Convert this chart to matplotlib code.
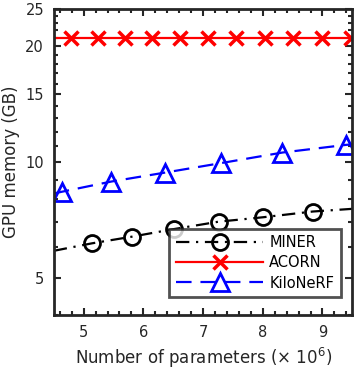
import matplotlib
matplotlib.use("Agg")
import matplotlib.pyplot as plt
from matplotlib.ticker import FixedLocator, NullFormatter, MultipleLocator

# ── data ──────────────────────────────────────────────────────────────────
miner_x = [4.5, 5.14, 5.81, 6.52, 7.26, 8.01, 8.84, 9.5]
miner_y = [5.88, 6.15, 6.40, 6.70, 7.00, 7.19, 7.44, 7.56]

acorn_x = [4.5, 4.79, 5.24, 5.69, 6.14, 6.61, 7.09, 7.56, 8.04, 8.51, 8.99, 9.47, 9.5]
acorn_y = [21.0] * len(acorn_x)

kilo_x = [4.5, 4.645, 5.46, 6.36, 7.30, 8.33, 9.40, 9.5]
kilo_y = [8.29, 8.38, 8.90, 9.39, 9.94, 10.59, 11.09, 11.12]

y_major = [5, 10, 15, 20, 25]
y_minor = list(range(4, 26))

fig = plt.figure(figsize=(3.61, 3.77), dpi=100)
ax = fig.add_axes([0.149, 0.164, 0.827, 0.812])

ax.plot(miner_x, miner_y, color="black", lw=1.6, dashes=(6, 3, 1, 3),
        marker="o", ms=11.5, mfc="none", mew=2, markevery=list(range(1, len(miner_x) - 1)),
        label="MINER")
ax.plot(acorn_x, acorn_y, color="red", lw=1.6, ls="-",
        marker="x", ms=9.5, mew=2.5, markevery=list(range(1, len(acorn_x) - 1)),
        label="ACORN")
ax.plot(kilo_x, kilo_y, color="blue", lw=1.6, dashes=(7, 4),
        marker="^", ms=13, mfc="none", mew=2, markevery=list(range(1, len(kilo_x) - 1)),
        label="KiloNeRF")

ax.set_yscale("log")
ax.set_xlim(4.5, 9.5)
ax.set_ylim(4, 25)
ax.yaxis.set_major_locator(FixedLocator(y_major))
ax.yaxis.set_minor_locator(FixedLocator(y_minor))
ax.yaxis.set_major_formatter(plt.FixedFormatter([str(v) for v in y_major]))
ax.yaxis.set_minor_formatter(NullFormatter())
ax.xaxis.set_major_locator(FixedLocator([5, 6, 7, 8, 9]))
ax.xaxis.set_minor_locator(MultipleLocator(0.2))

ax.tick_params(which="both", direction="in", top=True, right=True, width=1.5,
               labelsize=10.5, colors="#262626")
ax.tick_params(which="major", length=5, pad=7)
ax.tick_params(which="minor", length=3)
for s in ax.spines.values():
    s.set_linewidth(2)
    s.set_color("#262626")

ax.set_xlabel(r"Number of parameters ($\times$ 10$^6$)", fontsize=12, color="#262626")
ax.set_ylabel("GPU memory (GB)", fontsize=12, color="#262626")

leg = ax.legend(loc="lower right", fontsize=10.5, handlelength=6, frameon=True,
                fancybox=False, edgecolor="#262626", borderpad=0.45,
                labelspacing=0.35, handletextpad=0.4, bbox_to_anchor=(0.985, 0.035))
leg.get_frame().set_linewidth(2)

fig.savefig("out.png", dpi=100, facecolor="white")
